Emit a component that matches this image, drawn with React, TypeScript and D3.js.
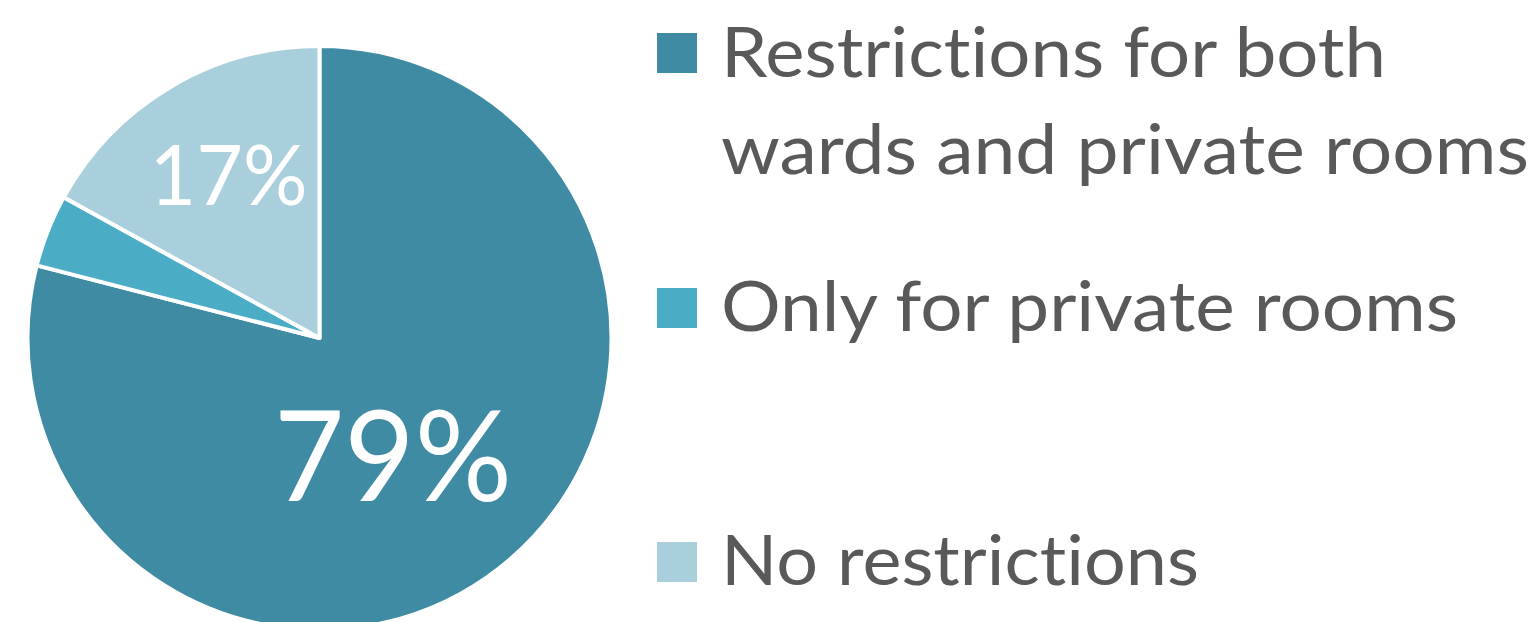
import React from "react";
import * as d3 from "d3";

const categories = [
  "Restrictions for both wards and private rooms",
  "Only for private rooms",
  "No restrictions",
];
const values = [79, 4, 17];
const showLabel = [true, false, true];
const legendLines = [
  ["Restrictions for both", "wards and private rooms"],
  ["Only for private rooms"],
  ["No restrictions"],
];
const colors = ["#3E8BA3", "#4BACC6", "#AACFDC"];

const W = 1540;
const H = 622;
const cx = 319.5;
const cy = 338;
const R = 292;

// label placement (radius fraction, font size, text width)
const labelLayout = [
  { rf: 0.466, angleShift: 0.09, size: 126, width: 238 },
  { rf: 0.6, angleShift: 0, size: 80, width: 120 },
  { rf: 0.645, angleShift: 0.03, size: 83, width: 158 },
];

const legendLayout = [
  { sqY: 33, baselines: [77, 174], widths: [665, 808] },
  { sqY: 288, baselines: [331], widths: [737] },
  { sqY: 542, baselines: [585], widths: [478] },
];

export default function App() {
  const pie = d3
    .pie<number>()
    .sort(null)
    .value((d) => d);
  const arcs = pie(values);
  const arc = d3
    .arc<d3.PieArcDatum<number>>()
    .innerRadius(0)
    .outerRadius(R);

  const total = d3.sum(values);
  const font = "Lato, 'Open Sans', sans-serif";
  const textStyle = { fontVariantLigatures: "none" as const };

  return (
    <svg
      width={W}
      height={H}
      style={{ position: "absolute", left: 0, top: 0, display: "block" }}
    >
      <rect x={0} y={0} width={W} height={H} fill="#ffffff" />
      <g transform={`translate(${cx},${cy})`}>
        {arcs.map((a, i) => (
          <path
            key={i}
            d={arc(a) || ""}
            fill={colors[i]}
            stroke="#ffffff"
            strokeWidth={4}
            strokeLinejoin="round"
          />
        ))}
        {arcs.map((a, i) => {
          if (!showLabel[i]) return null;
          const L = labelLayout[i];
          const mid = (a.startAngle + a.endAngle) / 2 + L.angleShift;
          const r = R * L.rf;
          const x = Math.sin(mid) * r;
          const y = -Math.cos(mid) * r;
          const pct = Math.round((values[i] / total) * 100);
          return (
            <text
              key={"l" + i}
              x={x}
              y={y}
              textAnchor="middle"
              dominantBaseline="central"
              fill="#ffffff"
              fontFamily={font}
              fontSize={L.size}
              textLength={L.width}
              lengthAdjust="spacingAndGlyphs"
              style={textStyle}
            >
              {pct}%
            </text>
          );
        })}
      </g>
      <g>
        {categories.map((c, i) => {
          const L = legendLayout[i];
          return (
            <g key={c}>
              <rect x={657} y={L.sqY} width={40} height={40} fill={colors[i]} />
              {legendLines[i].map((line, j) => (
                <text
                  key={j}
                  x={721}
                  y={L.baselines[j]}
                  fill="#595959"
                  fontFamily={font}
                  fontSize={69}
                  textLength={L.widths[j]}
                  lengthAdjust="spacingAndGlyphs"
                  style={textStyle}
                >
                  {line}
                </text>
              ))}
            </g>
          );
        })}
      </g>
    </svg>
  );
}
